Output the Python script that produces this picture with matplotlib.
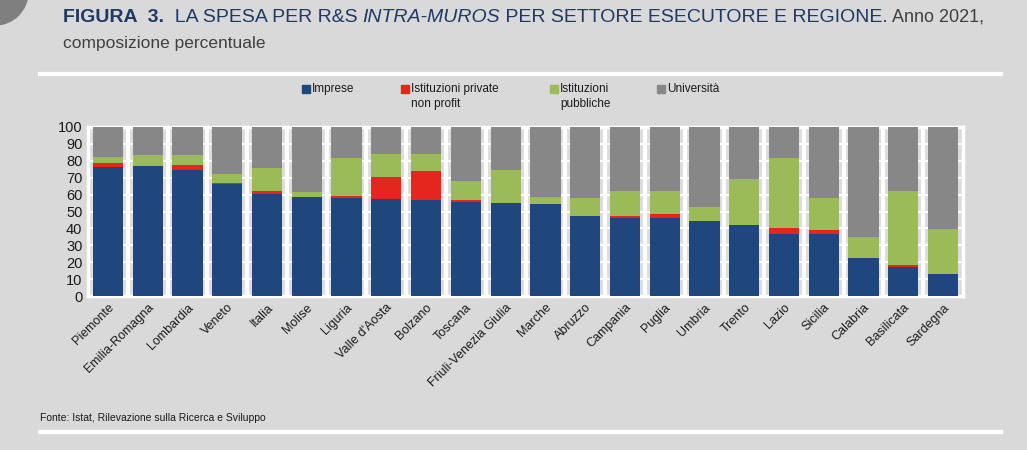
import matplotlib.pyplot as plt
import numpy as np
from matplotlib import font_manager
from matplotlib.patches import Circle, Rectangle
from matplotlib.lines import Line2D
from matplotlib.transforms import IdentityTransform

# data: composizione percentuale, anno 2021
regioni = ["Piemonte", "Emilia-Romagna", "Lombardia", "Veneto", "Italia", "Molise",
           "Liguria", "Valle d'Aosta", "Bolzano", "Toscana", "Friuli-Venezia Giulia",
           "Marche", "Abruzzo", "Campania", "Puglia", "Umbria", "Trento", "Lazio",
           "Sicilia", "Calabria", "Basilicata", "Sardegna"]
imprese = [76.3, 76.7, 74.8, 66.1, 60.2, 58.6, 57.8, 57.4, 56.6, 55.4, 55.0,
           54.3, 47.5, 46.0, 46.0, 44.4, 41.8, 36.9, 36.5, 22.7, 17.0, 13.0]
private_np = [2.5, 0.5, 2.6, 1.0, 1.7, 0.0, 1.6, 13.2, 17.2, 1.2, 0.0,
              0.0, 0.0, 1.5, 2.7, 0.0, 0.0, 3.3, 2.4, 0.0, 1.3, 0.0]
pubbliche = [3.4, 6.4, 5.9, 5.1, 13.8, 2.7, 22.3, 13.2, 10.0, 11.4, 19.6,
             4.0, 10.3, 14.8, 13.6, 8.5, 27.4, 41.7, 18.9, 12.4, 43.8, 26.6]
universita = [100 - a - b - c for a, b, c in zip(imprese, private_np, pubbliche)]

serie = ["Imprese", "Istituzioni private\nnon profit", "Istituzioni\npubbliche", "Università"]
colori = ["#1f477e", "#e4261e", "#9bbb59", "#878787"]

names = {f.name for f in font_manager.fontManager.ttflist}
font = "Liberation Sans Narrow" if "Liberation Sans Narrow" in names else "Liberation Sans"
plt.rcParams["font.family"] = [font, "DejaVu Sans"]

W, H = 1027, 450
bg = "#d9d9d9"
fig = plt.figure(figsize=(W / 100, H / 100), dpi=100, facecolor=bg)
ax = fig.add_axes([0.0857, 0.3422, 0.8520, 0.3756])
ax.set_facecolor("#dcdcdc")

x = np.arange(len(regioni))
bottom = np.zeros(len(regioni))
for vals, col in zip([imprese, private_np, pubbliche, universita], colori):
    ax.bar(x, vals, bottom=bottom, width=0.76, color=col, zorder=3)
    bottom += np.array(vals)

ax.set_xlim(-0.5, len(regioni) - 0.5)
ax.set_ylim(0, 100)
ax.set_yticks(range(0, 101, 10))
ax.yaxis.grid(True, color="white", lw=1.5, zorder=1)
for b in np.arange(0.5, len(regioni) - 0.5):
    ax.axvline(b, color="white", lw=3, zorder=1)
for s in ax.spines.values():
    s.set_color("white")
    s.set_linewidth(2.5)
ax.tick_params(length=0, labelsize=10.5, colors="#1a1a1a", pad=4)
ax.set_xticks(x)
ax.set_xticklabels(regioni, rotation=45, ha="right", rotation_mode="anchor", fontsize=9)

# legend, drawn by hand so the first lines line up
leg_x = [302, 401, 550, 657]
for px, lab, col in zip(leg_x, serie, colori):
    fig.add_artist(Rectangle((px, H - 93), 8, 8, transform=IdentityTransform(),
                             color=col, clip_on=False))
    fig.text((px + 10) / W, 1 - 83 / H, lab, fontsize=8.5, color="#1a1a1a",
             va="top", ha="left", linespacing=1.3)

# title
tc = "#1f3864"
ts = 14
t = fig.text(0.061, 0.952, "FIGURA  3.", fontsize=ts, fontweight="bold", color=tc,
             va="baseline")
fig.canvas.draw()
r = fig.canvas.get_renderer()
def after(txt, s, **kw):
    bb = txt.get_window_extent(r)
    return fig.text(bb.x1 / fig.bbox.width, 0.952, s, va="baseline", **kw)
t = after(t, "  LA SPESA PER R&S ", fontsize=ts, color=tc)
t = after(t, "INTRA-MUROS", fontsize=ts, color=tc, style="italic")
t = after(t, " PER SETTORE ESECUTORE E REGIONE.", fontsize=ts, color=tc)
t = after(t, " Anno 2021,", fontsize=ts - 1, color="#404040")
fig.text(0.061, 0.893, "composizione percentuale", fontsize=ts - 1.5, color="#404040",
         va="baseline")

fig.text(0.039, 0.065, "Fonte: Istat, Rilevazione sulla Ricerca e Sviluppo",
         fontsize=7.5, color="#1a1a1a")

# decorations
fig.add_artist(Line2D([0.039, 0.975], [0.836, 0.836], color="white", lw=3))
fig.add_artist(Line2D([0.039, 0.975], [0.04, 0.04], color="white", lw=3))
fig.add_artist(Circle((-5, H + 8), 33, transform=IdentityTransform(),
                      color="#7f7f7f", clip_on=False))

fig.savefig("out.png", dpi=100, facecolor=bg)
